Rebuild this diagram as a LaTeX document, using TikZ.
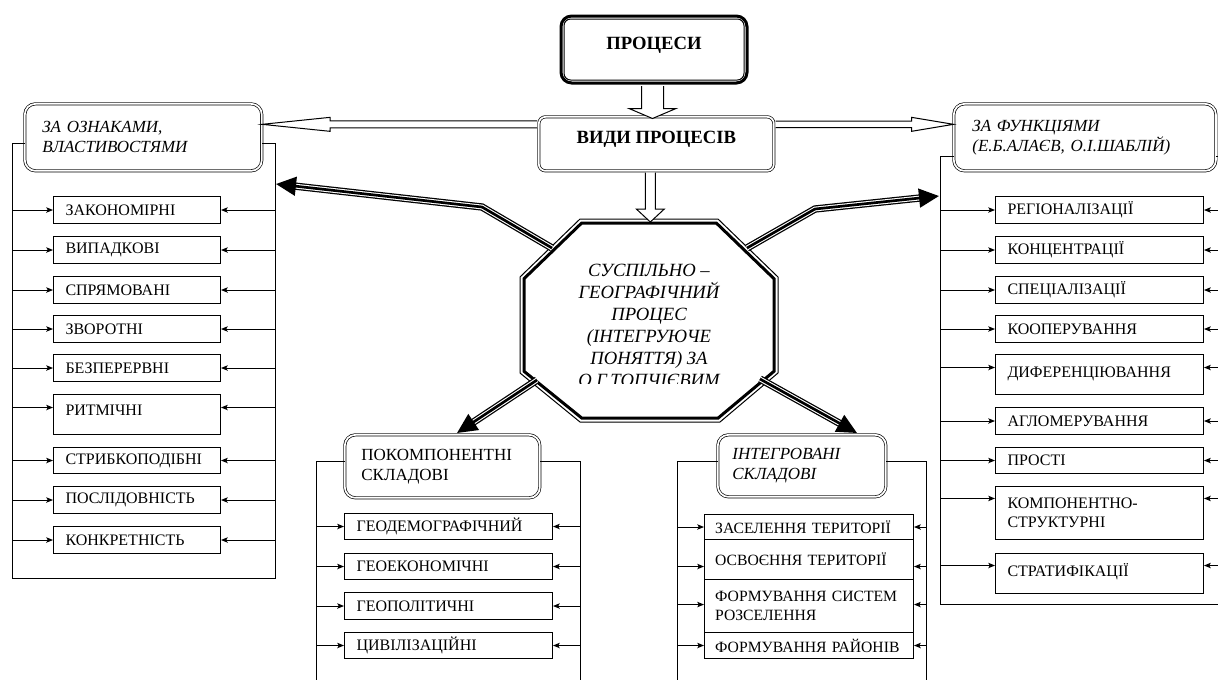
\documentclass[tikz,border=0pt]{standalone}
\usepackage{fontspec}
\setmainfont{Liberation Serif}
\usetikzlibrary{arrows.meta,calc}
\newcommand\itemfont{\fontsize{12}{14.25}\selectfont}
\newcommand\iitemfont{\fontsize{11.75}{13.75}\selectfont}
\newcommand\hdrfont{\fontsize{12.75}{15}\selectfont}
\newcommand\octfont{\fontsize{14}{16.5}\selectfont}
\newcommand\bigboldfont{\fontsize{14}{16}\selectfont\bfseries}
\begin{document}
\begin{tikzpicture}[x=0.75pt,y=-0.75pt,
 item/.style={draw, line width=0.75pt, fill=white, font=\itemfont, inner xsep=9pt, inner ysep=0pt, align=left, anchor=north west, text width=#1},
 litem/.style={item=107.25pt},
 ritem/.style={item=138pt},
 pitem/.style={item=138pt},
 iitem/.style={item=140.75pt, inner xsep=8pt, font=\iitemfont},
 hdr/.style={draw, double, double distance=1.3pt, line width=0.5pt, fill=white, rounded corners=8pt, font=\hdrfont, align=left, anchor=north west, inner ysep=0pt},
 br/.style={line width=0.75pt},
 arr/.style={line width=0.75pt, -{Stealth[length=5pt,width=4pt,inset=1pt]}},
 hollow/.style={draw, line width=0.75pt, fill=white, line join=miter},
 triA/.style={line width=5.5pt, shorten >=13pt},
 triB/.style={line width=3.6pt, white, shorten >=13pt},
 triC/.style={line width=2pt, -{Triangle[length=15pt,width=14pt]}},
]
\useasboundingbox (0,0) rectangle (1218,679);

% ---------- left group ----------
\node[hdr, text width=151.5pt, inner xsep=13.1pt, minimum height=50.25pt] (LH) at (24.5,103.5) {\itshape ЗА ОЗНАКАМИ,\\\itshape ВЛАСТИВОСТЯМИ};
\node[litem, minimum height=20.25pt] (L1) at (53,196) {ЗАКОНОМІРНІ};
\node[litem, minimum height=20.25pt] (L2) at (53,236) {ВИПАДКОВІ};
\node[litem, minimum height=20.25pt] (L3) at (53,276) {СПРЯМОВАНІ};
\node[litem, minimum height=20.25pt] (L4) at (53,315) {ЗВОРОТНІ};
\node[litem, minimum height=20.25pt] (L5) at (53,354) {БЕЗПЕРЕРВНІ};
\node[litem, minimum height=30pt, text depth=6pt] (L6) at (53,394) {РИТМІЧНІ};
\node[litem, minimum height=19.5pt] (L7) at (53,447) {СТРИБКОПОДІБНІ};
\node[litem, minimum height=20.25pt] (L8) at (53,486) {ПОСЛІДОВНІСТЬ};
\node[litem, minimum height=20.25pt] (L9) at (53,526) {КОНКРЕТНІСТЬ};
\coordinate (Ltl) at (12,143); \coordinate (Lbl) at (12,578);
\coordinate (Lbr) at (275,578); \coordinate (Ltr) at (275,143);
\draw[br] (LH.west |- Ltl) -- (Ltl) -- (Lbl) -- (Lbr) -- (Ltr) -- (LH.east |- Ltr);
\foreach \n in {L1,L2,L3,L4,L5,L7,L8,L9}{
  \draw[arr] (\n -| Ltl) -- (\n.west);
  \draw[arr] (\n -| Ltr) -- (\n.east);
}
\coordinate (L6a) at ([yshift=5.25pt]L6.west);
\coordinate (L6b) at ([yshift=5.25pt]L6.east);
\draw[arr] (L6a -| Ltl) -- (L6a);
\draw[arr] (L6b -| Ltr) -- (L6b);

% ---------- right group ----------
\node[hdr, text width=168.75pt, inner xsep=13.9pt, minimum height=50.25pt] (RH) at (953.5,103.5) {\itshape ЗА ФУНКЦІЯМИ\\\itshape (Е.Б.АЛАЄВ, О.І.ШАБЛІЙ)};
\node[ritem, minimum height=20.25pt] (R1) at (995,196) {РЕГІОНАЛІЗАЦІЇ};
\node[ritem, minimum height=20.25pt] (R2) at (995,236) {КОНЦЕНТРАЦІЇ};
\node[ritem, minimum height=20.25pt] (R3) at (995,276) {СПЕЦІАЛІЗАЦІЇ};
\node[ritem, minimum height=20.25pt] (R4) at (995,315) {КООПЕРУВАННЯ};
\node[ritem, minimum height=30pt, text depth=3pt] (R5) at (995,354) {ДИФЕРЕНЦІЮВАННЯ};
\node[ritem, minimum height=20.25pt] (R6) at (995,407) {АГЛОМЕРУВАННЯ};
\node[ritem, minimum height=19.5pt] (R7) at (995,447) {ПРОСТІ};
\node[ritem, minimum height=39.75pt] (R8) at (995,486) {КОМПОНЕНТНО-\\СТРУКТУРНІ};
\node[ritem, minimum height=30pt, text depth=6pt] (R9) at (995,553) {СТРАТИФІКАЦІЇ};
\coordinate (Rtl) at (940,156); \coordinate (Rbl) at (940,604);
\coordinate (Rbr) at (1222,604); \coordinate (Rtr) at (1222,156);
\draw[br] (RH.west |- Rtl) -- (Rtl) -- (Rbl) -- (Rbr) -- (Rtr) -- (RH.east |- Rtr);
\foreach \n in {R1,R2,R3,R4,R6,R7}{
  \draw[arr] (\n -| Rtl) -- (\n.west);
  \draw[arr] (\n -| Rtr) -- (\n.east);
}
\coordinate (R5a) at ([yshift=5.25pt]R5.west); \coordinate (R5b) at ([yshift=5.25pt]R5.east);
\coordinate (R8a) at ([yshift=10.9pt]R8.west); \coordinate (R8b) at ([yshift=10.9pt]R8.east);
\coordinate (R9a) at ([yshift=6pt]R9.west); \coordinate (R9b) at ([yshift=6pt]R9.east);
\foreach \a/\b in {R5a/R5b,R8a/R8b,R9a/R9b}{
  \draw[arr] (\a -| Rtl) -- (\a);
  \draw[arr] (\b -| Rtr) -- (\b);
}

% ---------- lower left group ----------
\node[hdr, text width=121.45pt, inner xsep=12.4pt, minimum height=47.25pt] (PH) at (344.5,434.5) {ПОКОМПОНЕНТНІ\\СКЛАДОВІ};
\node[pitem, minimum height=19.5pt] (P1) at (344,513) {ГЕОДЕМОГРАФІЧНИЙ};
\node[pitem, minimum height=19.5pt] (P2) at (344,553) {ГЕОЕКОНОМІЧНІ};
\node[pitem, minimum height=20.25pt] (P3) at (344,592) {ГЕОПОЛІТИЧНІ};
\node[pitem, minimum height=19.5pt] (P4) at (344,632) {ЦИВІЛІЗАЦІЙНІ};
\coordinate (Ptl) at (316,461); \coordinate (Pbl) at (316,690);
\coordinate (Ptr) at (580,461); \coordinate (Pbr) at (580,690);
\draw[br] (PH.west |- Ptl) -- (Ptl) -- (Pbl);
\draw[br] (PH.east |- Ptr) -- (Ptr) -- (Pbr);
\foreach \n in {P1,P2,P3,P4}{
  \draw[arr] (\n -| Ptl) -- (\n.west);
  \draw[arr] (\n -| Ptr) -- (\n.east);
}

% ---------- lower right group ----------
\node[hdr, text width=104.2pt, inner xsep=10.9pt, minimum height=46.5pt] (IH) at (717.5,434.5) {\itshape ІНТЕГРОВАНІ\\\itshape СКЛАДОВІ};
\node[iitem, minimum height=18.75pt] (I1) at (704,514) {\mbox{ЗАСЕЛЕННЯ ТЕРИТОРІЇ}};
\node[iitem, minimum height=30pt] (I2) at (704,539) {\mbox{ОСВОЄННЯ ТЕРИТОРІЇ}};
\node[iitem, minimum height=39.75pt] (I3) at (704,579) {\mbox{ФОРМУВАННЯ СИСТЕМ}\\РОЗСЕЛЕННЯ};
\node[iitem, minimum height=19.5pt] (I4) at (704,632) {\mbox{ФОРМУВАННЯ РАЙОНІВ}};
\coordinate (Itl) at (677,461); \coordinate (Ibl) at (677,690);
\coordinate (Itr) at (926,461); \coordinate (Ibr) at (926,690);
\draw[br] (IH.west |- Itl) -- (Itl) -- (Ibl);
\draw[br] (IH.east |- Itr) -- (Itr) -- (Ibr);
\coordinate (I1a) at (I1.west); \coordinate (I1b) at (I1.east);
\coordinate (I2a) at ([yshift=-5.25pt]I2.west); \coordinate (I2b) at ([yshift=-5.25pt]I2.east);
\coordinate (I3a) at ([yshift=1.1pt]I3.west); \coordinate (I3b) at ([yshift=1.1pt]I3.east);
\coordinate (I4a) at (I4.west); \coordinate (I4b) at (I4.east);
\foreach \a/\b in {I1a/I1b,I2a/I2b,I3a/I3b,I4a/I4b}{
  \draw[arr] (\a -| Itl) -- (\a);
  \draw[arr] (\b -| Itr) -- (\b);
}

% ---------- top boxes ----------
\node[draw, double, double distance=1.3pt, line width=0.5pt, fill=white, rounded corners=5pt,
      minimum width=176.25pt, minimum height=40.5pt, anchor=north west, inner sep=0pt,
      font=\bigboldfont, text height=0pt, text depth=0pt] (V) at (538.5,116.5) {ВИДИ ПРОЦЕСІВ};
\node[draw, line width=2.25pt, fill=white, rounded corners=8pt,
      minimum width=139.5pt, minimum height=50.25pt, anchor=north west, inner sep=0pt,
      font=\bigboldfont, text height=0pt, text depth=0pt] (P) at (559.5,14.5) {ПРОЦЕСИ};
\draw[line width=0.75pt, rounded corners=5pt] ($(P.north west)+(4.5,4.5)$) rectangle ($(P.south east)+(-4.5,-4.5)$);

% hollow arrows from "ВИДИ ПРОЦЕСІВ" to the sides
\coordinate (VLs) at ($(V.west)+(-1.5,-19.5)$);
\coordinate (VLt) at (LH.east |- VLs);
\draw[hollow] ($(VLs)+(0,-3.5)$) -- ($(VLt)+(68,-3.5)$) -- ($(VLt)+(68,-7)$) -- (VLt)
   -- ($(VLt)+(68,7)$) -- ($(VLt)+(68,3.5)$) -- ($(VLs)+(0,3.5)$);
\coordinate (VRs) at ($(V.east)+(1.5,-19.5)$);
\coordinate (VRt) at (RH.west |- VRs);
\draw[hollow] ($(VRs)+(0,-3.3)$) -- ($(VRt)+(-42,-3.3)$) -- ($(VRt)+(-42,-7)$) -- (VRt)
   -- ($(VRt)+(-42,7)$) -- ($(VRt)+(-42,3.3)$) -- ($(VRs)+(0,3.3)$);

% hollow arrow ПРОЦЕСИ -> ВИДИ
\coordinate (PVs) at ($(P.south)+(-1.5,1.5)$);
\coordinate (PVt) at ($(PVs |- V.north)+(0,2)$);
\draw[hollow] ($(PVs)+(-11,0)$) -- ($(PVt)+(-11,-10)$) -- ($(PVt)+(-23.5,-10)$) -- (PVt)
   -- ($(PVt)+(23.5,-10)$) -- ($(PVt)+(11,-10)$) -- ($(PVs)+(11,0)$);

% ---------- central octagon ----------
\coordinate (octtop) at (649,219);
\fill[white] (580,219) -- (718,219) -- (778,277) -- (778,373) -- (720,422) -- (580,422) -- (520,373) -- (520,277) -- cycle;
\draw[line width=0.75pt] (580,219) -- (718,219) -- (778,277) -- (778,373) -- (720,422) -- (580,422) -- (520,373) -- (520,277) -- cycle;
\draw[line width=2.25pt] (581.7,223) -- (716.3,223) -- (774,278.7) -- (774,371.3) -- (718.2,418) -- (581.7,418) -- (524,371.3) -- (524,278.7) -- cycle;
\begin{scope}
\clip (525,240) rectangle (773,383);
\node[font=\octfont\itshape, align=center, inner sep=0pt] (oct) at (649,325.5)
  {СУСПІЛЬНО –\\ГЕОГРАФІЧНИЙ\\ПРОЦЕС\\(ІНТЕГРУЮЧЕ\\ПОНЯТТЯ) ЗА\\О.Г.ТОПЧІЄВИМ};
\end{scope}

% hollow arrow ВИДИ -> octagon
\coordinate (VOs) at ($(V.south)+(-6,1.5)$);
\coordinate (VOt) at ($(VOs |- octtop)+(0,3)$);
\draw[hollow] ($(VOs)+(-5,0)$) -- ($(VOt)+(-5,-13)$) -- ($(VOt)+(-14,-13)$) -- (VOt)
   -- ($(VOt)+(14,-13)$) -- ($(VOt)+(5,-13)$) -- ($(VOs)+(5,0)$);

% ---------- triple arrows from the octagon ----------
\coordinate (ulS) at (552,248); \coordinate (ulB) at (482,207); \coordinate (ulT) at (276,184);
\coordinate (urS) at (747,248); \coordinate (urB) at (815,209); \coordinate (urT) at (939,196);
\coordinate (llS) at (537,380); \coordinate (llT) at (457,433);
\coordinate (lrS) at (760,379); \coordinate (lrT) at (857,433);
\foreach \s/\b/\t in {ulS/ulB/ulT, urS/urB/urT}{
  \draw[triA] (\s) -- (\b) -- (\t);
  \draw[triB] (\s) -- (\b) -- (\t);
  \draw[triC] (\s) -- (\b) -- (\t);
}
\foreach \s/\t in {llS/llT, lrS/lrT}{
  \draw[triA] (\s) -- (\t);
  \draw[triB] (\s) -- (\t);
  \draw[triC] (\s) -- (\t);
}
\end{tikzpicture}
\end{document}
